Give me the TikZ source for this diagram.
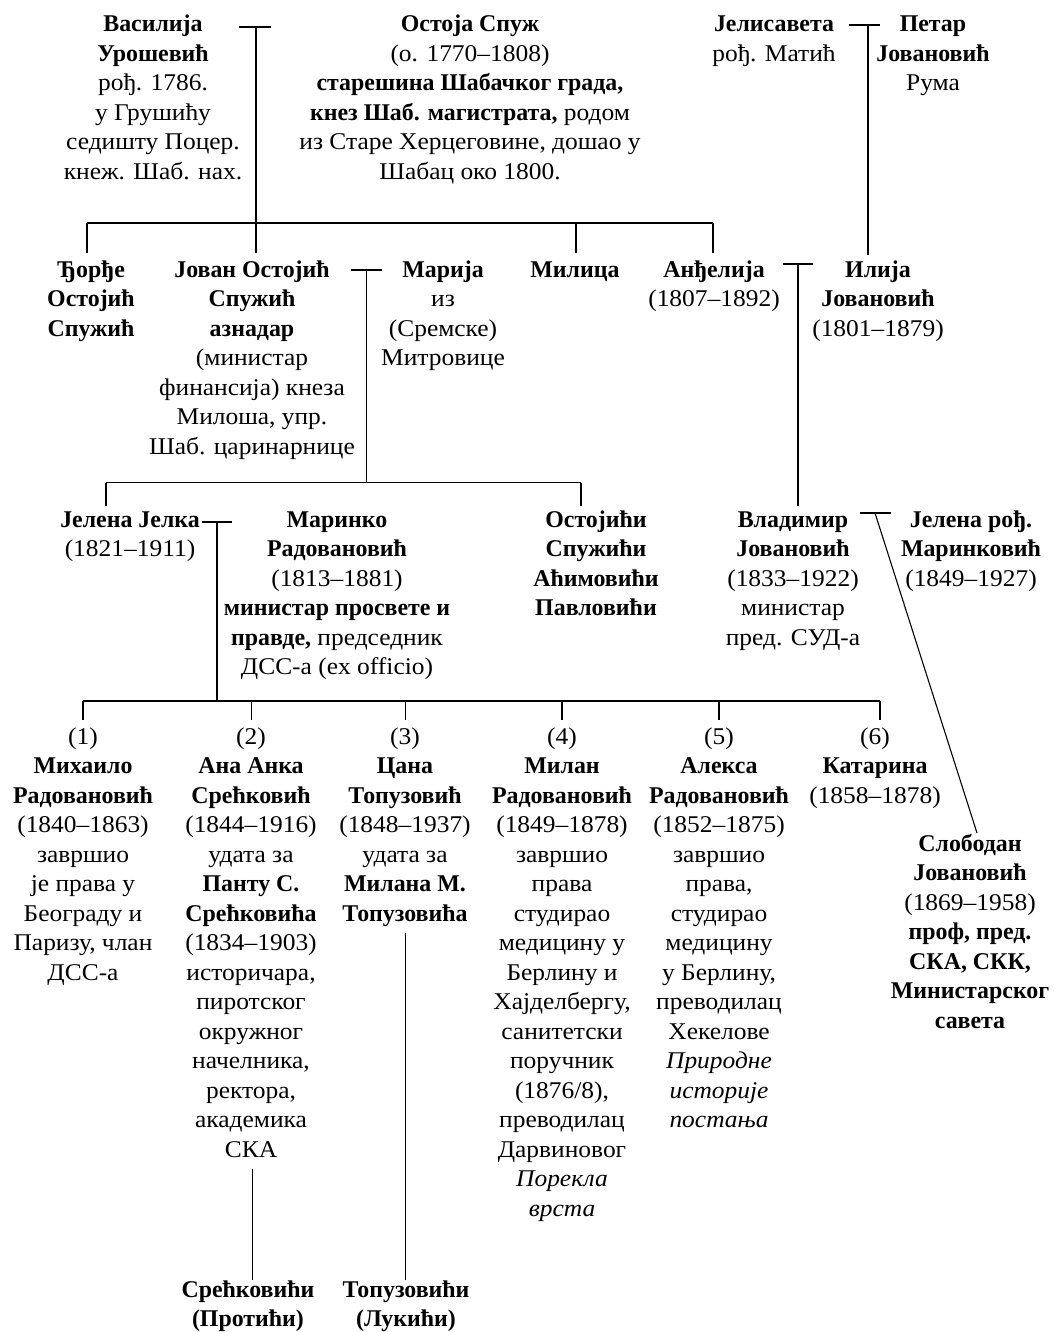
\documentclass[tikz,border=0pt]{standalone}
\usepackage{fontspec}
\setmainfont{Liberation Serif}[Script=Cyrillic, Language=Serbian,
  UprightFeatures={FakeStretch=1.06}, ItalicFeatures={FakeStretch=1.06},
  BoldFeatures={FakeStretch=0.995}]
\newcommand\treefs{\fontsize{24}{29.5}\selectfont}
\tikzset{
  person/.style={anchor=north, yshift=20.65pt, align=center, inner sep=0pt, font=\treefs},
  ln/.style={line width=1.1pt, black}
}
\begin{document}
\begin{tikzpicture}[x=1pt, y=-1pt]
\useasboundingbox (0,0) rectangle (1053,1332);
% ---------- row 1 ----------
\node[person] (vasilija) at (153,31.5) {\strut\textbf{Василија}\\\textbf{Урошевић}\\рођ. 1786.\\у Грушићу\\седишту Поцер.\\кнеж. Шаб. нах.};
\node[person] (ostoja) at (470,31.5) {\strut\textbf{Остоја Спуж}\\(о. 1770–1808)\\\textbf{старешина Шабачког града,}\\\textbf{кнез Шаб. магистрата,} родом\\из Старе Херцеговине, дошао у\\Шабац око 1800.};
\node[person] (jelisaveta) at (774,31.5) {\strut\textbf{Јелисавета}\\рођ. Матић};
\node[person] (petar) at (933,31.5) {\strut\textbf{Петар}\\\textbf{Јовановић}\\Рума};
% ---------- row 2 ----------
\node[person] (djordje) at (91,277) {\strut\textbf{Ђорђе}\\\textbf{Остојић}\\\textbf{Спужић}};
\node[person] (jovan) at (252,277) {\strut\textbf{Јован Остојић}\\\textbf{Спужић}\\\textbf{азнадар}\\(министар\\финансија) кнеза\\Милоша, упр.\\Шаб. царинарнице};
\node[person] (marija) at (443,277) {\strut\textbf{Марија}\\из\\(Сремске)\\Митровице};
\node[person] (milica) at (575,277) {\strut\textbf{Милица}};
\node[person] (andjelija) at (714,277) {\strut\textbf{Анђелија}\\(1807–1892)};
\node[person] (ilija) at (878,277) {\strut\textbf{Илија}\\\textbf{Јовановић}\\(1801–1879)};
% ---------- row 3 ----------
\node[person] (jelena) at (130,527) {\strut\textbf{Јелена Јелка}\\(1821–1911)};
\node[person] (marinko) at (337,527) {\strut\textbf{Маринко}\\\textbf{Радовановић}\\(1813–1881)\\\textbf{министар просвете и}\\\textbf{правде,} председник\\ДСС-а (ex officio)};
\node[person] (ostojici) at (596,527) {\strut\textbf{Остојићи}\\\textbf{Спужићи}\\\textbf{Аћимовићи}\\\textbf{Павловићи}};
\node[person] (vladimir) at (793,527) {\strut\textbf{Владимир}\\\textbf{Јовановић}\\(1833–1922)\\министар\\пред. СУД-а};
\node[person] (jelenam) at (971,527) {\strut\textbf{Јелена рођ.}\\\textbf{Маринковић}\\(1849–1927)};
% ---------- row 4 ----------
\node[person] (mihailo) at (83,744) {\strut(1)\\\textbf{Михаило}\\\textbf{Радовановић}\\(1840–1863)\\завршио\\је права у\\Београду и\\Паризу, члан\\ДСС-а};
\node[person] (ana) at (251,744) {\strut(2)\\\textbf{Ана Анка}\\\textbf{Срећковић}\\(1844–1916)\\удата за\\\textbf{Панту С.}\\\textbf{Срећковића}\\(1834–1903)\\историчара,\\пиротског\\окружног\\начелника,\\ректора,\\академика\\СКА};
\node[person] (cana) at (405,744) {\strut(3)\\\textbf{Цана}\\\textbf{Топузовић}\\(1848–1937)\\удата за\\\textbf{Милана М.}\\\textbf{Топузовића}};
\node[person] (milan) at (562,744) {\strut(4)\\\textbf{Милан}\\\textbf{Радовановић}\\(1849–1878)\\завршио\\права\\студирао\\медицину у\\Берлину и\\Хајделбергу,\\санитетски\\поручник\\(1876/8),\\преводилац\\Дарвиновог\\\textit{Порекла}\\\textit{врста}};
\node[person] (aleksa) at (719,744) {\strut(5)\\\textbf{Алекса}\\\textbf{Радовановић}\\(1852–1875)\\завршио\\права,\\студирао\\медицину\\у Берлину,\\преводилац\\Хекелове\\\textit{Природне}\\\textit{историје}\\\textit{постања}};
\node[person] (katarina) at (875,744) {\strut(6)\\\textbf{Катарина}\\(1858–1878)};
\node[person] (slobodan) at (970,851) {\strut\textbf{Слободан}\\\textbf{Јовановић}\\(1869–1958)\\\textbf{проф, пред.}\\\textbf{СКА, СКК,}\\\textbf{Министарског}\\\textbf{савета}};
% ---------- bottom ----------
\node[person] (sreckovici) at (248,1297) {\strut\textbf{Срећковићи}\\\textbf{(Протићи)}};
\node[person] (topuzovici) at (406,1297) {\strut\textbf{Топузовићи}\\\textbf{(Лукићи)}};
% ---------- junction coordinates ----------
\coordinate (m1l) at (239,27);  \coordinate (m1r) at (271,27);  \coordinate (m1) at (256,27);
\coordinate (m2l) at (849,25);  \coordinate (m2r) at (880,25);  \coordinate (m2) at (868,25);
\coordinate (m3l) at (351,270); \coordinate (m3r) at (382,270); \coordinate (m3) at (366.5,270);
\coordinate (m4l) at (783,264); \coordinate (m4r) at (813,264); \coordinate (m4) at (798,264);
\coordinate (m5l) at (202,522); \coordinate (m5r) at (232,522); \coordinate (m5) at (217,522);
\coordinate (m6l) at (860,513); \coordinate (m6r) at (891,513); \coordinate (m6) at (875,513);
% row 2 bar
\coordinate (b2a) at (87,223);  \coordinate (b2d) at (713,223);
\coordinate (d2a) at (87,253);  \coordinate (d2b) at (256,253); \coordinate (b2c) at (576,223);
\coordinate (d2c) at (576,253); \coordinate (d2d) at (713,253);
\coordinate (d2e) at (868,255);
% row 3 bar
\coordinate (b3a) at (106,482.5); \coordinate (b3m) at (366.5,482.5); \coordinate (b3b) at (581,482.5);
\coordinate (d3a) at (106,505.5); \coordinate (d3b) at (581,505.5);
\coordinate (d3v) at (798,505.5);
% row 4 bar
\coordinate (b4m) at (217,701);
\foreach \n/\x in {1/83,2/251.5,3/405.5,4/562,5/719,6/880}{
  \coordinate (b4\n) at (\x,701); \coordinate (d4\n) at (\x,720);}
% descendants
\coordinate (t5a) at (252.7,1169); \coordinate (t5b) at (252.7,1280);
\coordinate (t6a) at (405.4,933);  \coordinate (t6b) at (405.4,1280);
\coordinate (sl) at (977,833);
% ---------- connectors ----------
\draw[ln] (m1l) -- (m1r);  \draw[ln] (m1) -- (d2b);
\draw[ln] (b2a) -- (b2d);  \draw[ln] (b2a) -- (d2a);
\draw[ln] (b2c) -- (d2c);  \draw[ln] (b2d) -- (d2d);
\draw[ln] (m2l) -- (m2r);  \draw[ln] (m2) -- (d2e);
\draw[ln] (m3l) -- (m3r);  \draw[ln] (m3) -- (b3m);
\draw[ln] (b3a) -- (b3b);  \draw[ln] (b3a) -- (d3a);  \draw[ln] (b3b) -- (d3b);
\draw[ln] (m4l) -- (m4r);  \draw[ln] (m4) -- (d3v);
\draw[ln] (m5l) -- (m5r);  \draw[ln] (m5) -- (b4m);
\draw[ln] (b41) -- (b46);
\foreach \n in {1,...,6}{\draw[ln] (b4\n) -- (d4\n);}
\draw[ln] (m6l) -- (m6r);  \draw[ln] (m6) -- (sl);
\draw[ln] (t5a) -- (t5b);
\draw[ln] (t6a) -- (t6b);
\end{tikzpicture}
\end{document}
